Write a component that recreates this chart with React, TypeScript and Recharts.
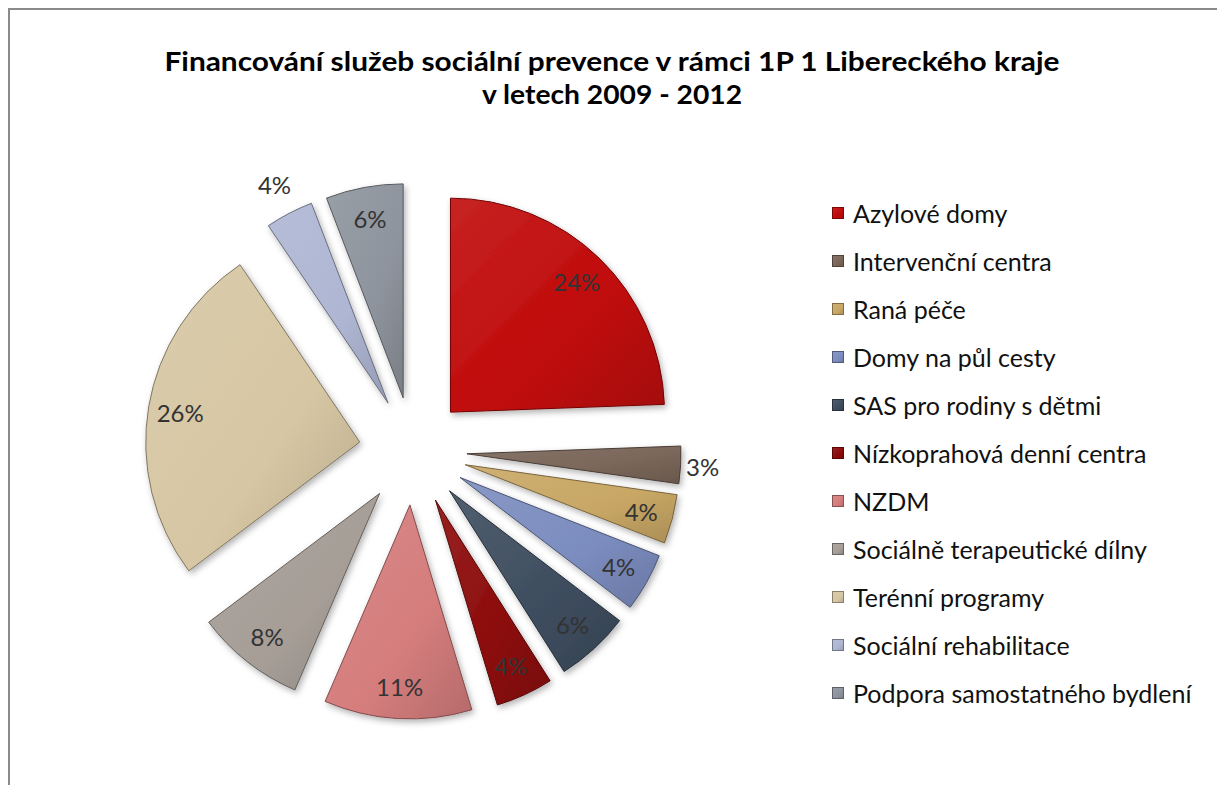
import React from "react"
import { PieChart, Pie, Cell, Sector, Legend } from "recharts"

// Financování služeb sociální prevence – podíly (%)
const categories = [
  "Azylové domy",
  "Intervenční centra",
  "Raná péče",
  "Domy na půl cesty",
  "SAS pro rodiny s dětmi",
  "Nízkoprahová denní centra",
  "NZDM",
  "Sociálně terapeutické dílny",
  "Terénní programy",
  "Sociální rehabilitace",
  "Podpora samostatného bydlení",
]
const shares = [24.3, 2.8, 3.7, 4.4, 5.6, 4.3, 11.1, 8.2, 25.7, 3.6, 5.8]
const colors = [
  "#c00a0a",
  "#7a6659",
  "#c8a765",
  "#7b8cbf",
  "#3e4d5f",
  "#8c0b0b",
  "#d57d7d",
  "#a59d96",
  "#d6c6a3",
  "#aeb6d3",
  "#8e949d",
]
// slices whose label sits outside the slice
const outsideLabels = ["Intervenční centra", "Sociální rehabilitace"]

const titleLines = ["Financování služeb sociální prevence v rámci 1P 1 Libereckého kraje", "v letech 2009 - 2012"]

const data = categories.map((name, i) => ({ name, value: shares[i] }))

const FONT = "Lato, 'Open Sans', sans-serif"
const EXPLODE = 54
const RAD = Math.PI / 180

function shade(hex: string, amt: number) {
  const n = parseInt(hex.slice(1), 16)
  const ch = [(n >> 16) & 255, (n >> 8) & 255, n & 255].map((c) => {
    const v = amt >= 0 ? c + (255 - c) * amt : c * (1 + amt)
    return Math.round(Math.max(0, Math.min(255, v)))
  })
  return "#" + ch.map((c) => c.toString(16).padStart(2, "0")).join("")
}

function ExplodedSlice(props: any) {
  const { cx, cy, midAngle } = props
  const dx = EXPLODE * Math.cos(-midAngle * RAD)
  const dy = EXPLODE * Math.sin(-midAngle * RAD)
  return <Sector {...props} cx={cx + dx} cy={cy + dy} filter="url(#sliceShadow)" />
}

function renderLabel(props: any) {
  const { cx, cy, midAngle, percent, name } = props
  const r = outsideLabels.includes(name) ? (name === "Intervenční centra" ? 290 : 300) : 236
  const x = cx + r * Math.cos(-midAngle * RAD)
  const y = cy + r * Math.sin(-midAngle * RAD)
  return (
    <text x={x} y={y} textAnchor="middle" dominantBaseline="central" fontFamily={FONT} fontSize={24} fill="#333">
      {Math.round(percent * 100)}%
    </text>
  )
}

function renderLegend() {
  return (
    <div style={{ fontFamily: FONT }}>
      {categories.map((name, i) => (
        <div key={name} style={{ display: "flex", alignItems: "center", height: 48 }}>
          <svg width={12} height={12} style={{ marginRight: 9, flexShrink: 0 }}>
            <rect x={0.5} y={0.5} width={11} height={11} fill={`url(#grad${i})`} stroke={shade(colors[i], -0.35)} />
          </svg>
          <span style={{ fontSize: 25, color: "#111", whiteSpace: "nowrap" }}>{name}</span>
        </div>
      ))}
    </div>
  )
}

export default function App() {
  return (
    <div style={{ position: "relative", width: 1217, height: 785, background: "#fff", overflow: "hidden" }}>
      <style>{"body{margin:0}"}</style>
      <div style={{ position: "absolute", left: 8, top: 8, right: 0, height: 2, background: "#8a8a8a" }} />
      <div style={{ position: "absolute", left: 8, top: 8, bottom: 0, width: 2, background: "#8a8a8a" }} />
      <svg width={1217} height={120} style={{ position: "absolute", left: 0, top: 0 }}>
        <text x={612} y={71} textAnchor="middle" fontFamily={FONT} fontWeight={700} fontSize={27} fill="#000" textLength={895} lengthAdjust="spacingAndGlyphs">
          {titleLines[0]}
        </text>
        <text x={612} y={104} textAnchor="middle" fontFamily={FONT} fontWeight={700} fontSize={27} fill="#000" textLength={260} lengthAdjust="spacingAndGlyphs">
          {titleLines[1]}
        </text>
      </svg>
      <div style={{ position: "absolute", left: 0, top: 0 }}>
        <PieChart width={1217} height={785} margin={{ top: 0, right: 0, bottom: 0, left: 0 }}>
          <defs>
            <filter id="sliceShadow" x="-20%" y="-20%" width="140%" height="140%">
              <feDropShadow dx="2" dy="3" stdDeviation="3" floodColor="#000" floodOpacity="0.3" />
            </filter>
            {colors.map((c, i) => (
              <linearGradient key={i} id={`grad${i}`} x1="0" y1="0" x2="1" y2="1">
                <stop offset="0%" stopColor={shade(c, 0.1)} />
                <stop offset="60%" stopColor={c} />
                <stop offset="100%" stopColor={shade(c, -0.15)} />
              </linearGradient>
            ))}
          </defs>
          <Pie
            data={data}
            dataKey="value"
            nameKey="name"
            cx={413}
            cy={451}
            outerRadius={214}
            startAngle={90}
            endAngle={-270}
            paddingAngle={0}
            shape={ExplodedSlice}
            label={renderLabel}
            labelLine={false}
            isAnimationActive={false}
          >
            {data.map((d, i) => (
              <Cell key={d.name} fill={`url(#grad${i})`} stroke={shade(colors[i], -0.4)} strokeWidth={1} />
            ))}
          </Pie>
          <Legend
            layout="vertical"
            content={renderLegend}
            wrapperStyle={{ position: "absolute", left: 832, top: 189, width: 385 }}
          />
        </PieChart>
      </div>
    </div>
  )
}
